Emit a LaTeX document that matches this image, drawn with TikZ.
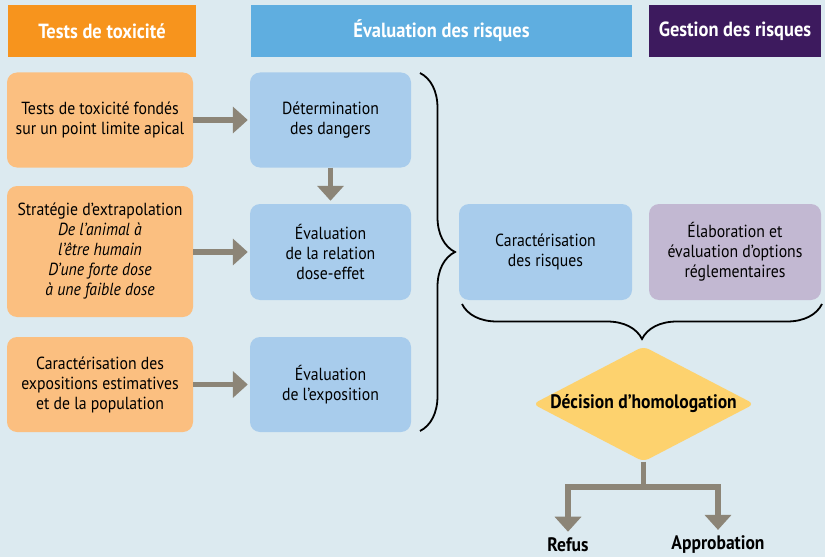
\documentclass[tikz,border=0pt]{standalone}
\usepackage{fontspec}
\setmainfont{PT Sans}[FakeStretch=0.9]
\usetikzlibrary{arrows.meta,shapes.geometric,decorations.pathreplacing}
\definecolor{bgblue}{HTML}{DCEAF0}
\definecolor{hdorange}{HTML}{F7941D}
\definecolor{hdblue}{HTML}{5FAEE0}
\definecolor{hdpurple}{HTML}{3D1A5E}
\definecolor{boxorange}{HTML}{FBBF80}
\definecolor{boxblue}{HTML}{A8CCEC}
\definecolor{boxlilac}{HTML}{C2B8D2}
\definecolor{decyellow}{HTML}{FDD26E}
\definecolor{arrgray}{HTML}{8C8577}

\begin{document}
\begin{tikzpicture}[x=1pt,y=-1pt,
  head/.style={minimum height=52pt,text=white,inner sep=0pt,
    font=\bfseries\fontsize{20.5}{24}\selectfont},
  box/.style={rounded corners=10pt,minimum width=186pt,minimum height=95pt,
    inner sep=0pt,align=center,font=\fontsize{17.5}{20}\selectfont},
  flow/.style={arrgray,line width=5.5pt,-{Triangle[length=15pt,width=26pt]}},
  curly/.style={decorate,decoration={brace,amplitude=35pt},line width=1.8pt},
  outcome/.style={font=\bfseries\fontsize{19.5}{22}\selectfont,inner sep=6pt}]
\fill[bgblue] (0,0) rectangle (825,557);
% headers
\node[head,fill=hdorange,minimum width=188pt] (htox) at (102,31) {Tests de toxicité};
\node[head,fill=hdblue,minimum width=381pt] (heval) at (441.5,31) {Évaluation des risques};
\node[head,fill=hdpurple,minimum width=172pt] (hgest) at (735,31) {Gestion des risques};
% toxicity tests
\node[box,fill=boxorange] (apical) at (100,120) {Tests de toxicité fondés\\sur un point limite apical};
\node[box,fill=boxorange,minimum height=131pt] (extrap) at (100,251.5) {Stratégie d’extrapolation\\
  \textit{De l’animal à}\\\textit{l’être humain}\\\textit{D’une forte dose}\\\textit{à une faible dose}};
\node[box,fill=boxorange] (expo) at (100,384.5) {Caractérisation des\\expositions estimatives\\et de la population};
% risk assessment
\node[box,fill=boxblue,minimum width=161pt] (danger) at (330.5,120) {Détermination\\des dangers};
\node[box,fill=boxblue,minimum width=161pt,minimum height=96pt] (doseeff) at (330.5,252) {Évaluation\\de la relation\\dose-effet};
\node[box,fill=boxblue,minimum width=161pt] (evalexpo) at (330.5,384.5) {Évaluation\\de l’exposition};
\node[box,fill=boxblue,minimum width=173pt,minimum height=96pt] (caract) at (545.5,252) {Caractérisation\\des risques};
\node[box,fill=boxlilac,minimum width=172pt,minimum height=96pt] (options) at (735,252) {Élaboration et\\évaluation d’options\\réglementaires};
% decision
\node[diamond,fill=decyellow,rounded corners=6pt,inner sep=0pt,aspect=1.92,
  minimum width=217pt,minimum height=113pt,font=\bfseries\fontsize{19.5}{22}\selectfont]
  (decision) at (643.5,404) {Décision d’homologation};
\node[outcome] (refus) at (568,545) {Refus};
\node[outcome] (appro) at (718,545) {Approbation};

\foreach \a/\b in {apical/danger,extrap/doseeff,expo/evalexpo}
  \draw[flow,shorten >=2pt] (\a.east |- \b) -- (\b.west);
\draw[flow,shorten >=3pt] (danger) -- (doseeff);
\draw[flow] (decision.south) -- ++(0,25) -| (refus.north);
\draw[flow] (decision.south) -- ++(0,25) -| (appro.north);

% braces
\draw[curly] (420,73) -- (420,431);
\draw[curly] (822,304) -- (462,304);
\end{tikzpicture}
\end{document}
